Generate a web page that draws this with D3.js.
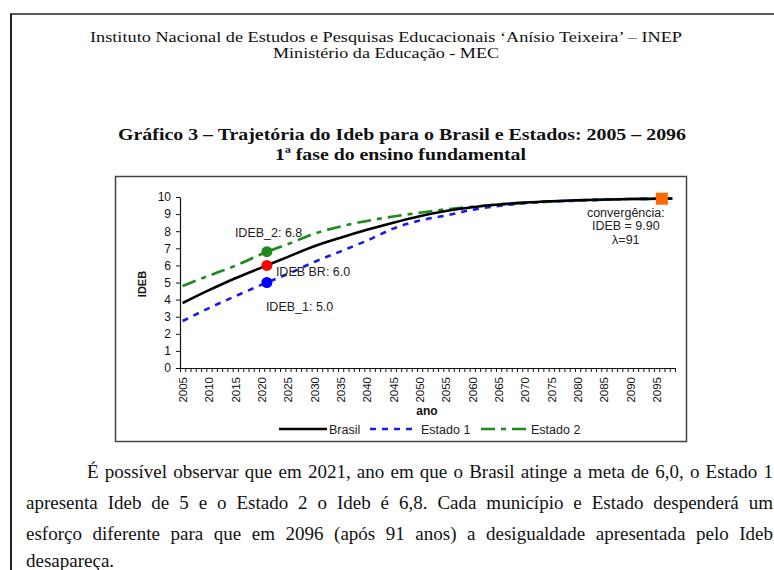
<!DOCTYPE html>
<html>
<head>
<meta charset="utf-8">
<script src="https://cdn.jsdelivr.net/npm/d3@7"></script>
<style>
  body { margin: 0; background: #fff; }
  svg { display: block; }
  .serif { font-family: "Liberation Serif", "Times New Roman", serif; fill: #111; }
  .sans { font-family: "Liberation Sans", Arial, sans-serif; fill: #111; }
  .axis path, .axis line { stroke: #111; }
</style>
</head>
<body>
<svg id="page"></svg>
<script>
// anos lidos no grafico e valores do Ideb
var anos    = [2005, 2010, 2015, 2021, 2025, 2030, 2035, 2040, 2045, 2050, 2055, 2060, 2065, 2070, 2075, 2080, 2085, 2090, 2096, 2098];
var brasil  = [3.8, 4.55, 5.25, 6.0, 6.5, 7.12, 7.62, 8.08, 8.5, 8.88, 9.18, 9.4, 9.56, 9.67, 9.75, 9.81, 9.85, 9.88, 9.9, 9.91];
var estado1 = [2.75, 3.5, 4.2, 5.0, 5.5, 6.2, 6.82, 7.45, 8.15, 8.62, 8.92, 9.25, 9.48, 9.64, 9.73, 9.79, 9.84, 9.88, 9.9, 9.91];
var estado2 = [4.8, 5.4, 5.98, 6.8, 7.25, 7.85, 8.28, 8.6, 8.86, 9.08, 9.28, 9.43, 9.57, 9.66, 9.74, 9.8, 9.85, 9.88, 9.9, 9.91];

var series = ["Brasil", "Estado 1", "Estado 2"];
var rotulosAno = d3.range(2005, 2096, 5);
var ticksY = d3.range(0, 11);

// pontos destacados em 2021 e a convergencia em 2096
var marcos = [
  { nome: "IDEB_2: 6.8", ano: 2021, valor: 6.8 },
  { nome: "IDEB BR: 6.0", ano: 2021, valor: 6.0 },
  { nome: "IDEB_1: 5.0", ano: 2021, valor: 5.0 }
];
var convergencia = { ano: 2096, valor: 9.9, texto: ["convergência:", "IDEB = 9.90", "λ=91"] };

var W = 774, H = 570;
var svg = d3.select("#page").attr("width", W).attr("height", H);

// texto de largura fixa (a pagina original esta esticada na horizontal)
function esticado(sel, texto, x, y, tam, largura) {
  return sel.append("text")
      .attr("x", x).attr("y", y)
      .attr("font-size", tam)
      .attr("textLength", largura)
      .attr("lengthAdjust", "spacingAndGlyphs")
      .text(texto);
}

// moldura da pagina
svg.append("line").attr("x1", 10).attr("x2", W).attr("y1", 14).attr("y2", 14)
    .attr("stroke", "#222").attr("stroke-width", 1.5);
svg.append("line").attr("x1", 11).attr("x2", 11).attr("y1", 14).attr("y2", H)
    .attr("stroke", "#222").attr("stroke-width", 2);

// cabecalho
var cab = svg.append("g").attr("class", "serif");
esticado(cab, "Instituto Nacional de Estudos e Pesquisas Educacionais ‘Anísio Teixeira’ – INEP", 90, 41.5, 14.3, 592);
esticado(cab, "Ministério da Educação - MEC", 273, 58, 14.3, 226);

// titulo
var tit = svg.append("g").attr("class", "serif").attr("font-weight", "bold");
esticado(tit, "Gráfico 3 – Trajetória do Ideb para o Brasil e Estados: 2005 – 2096", 118, 140, 17, 568);
esticado(tit, "1ª fase do ensino fundamental", 275, 160, 17, 251);

// caixa do grafico
svg.append("rect").attr("x", 115.5).attr("y", 176.5).attr("width", 571).attr("height", 265)
    .attr("fill", "none").attr("stroke", "#444").attr("stroke-width", 1.5);

// escalas
var x = d3.scaleLinear().domain([2004.5, 2098.5]).range([180, 675]);
var y = d3.scaleLinear().domain([0, 10]).range([368, 197]);

var g = svg.append("g").attr("class", "sans");

// eixo x: marcas a cada ano
g.append("g").attr("class", "axis")
    .attr("transform", "translate(0,368)")
    .call(d3.axisBottom(x).tickValues(d3.range(2004.5, 2099, 1)).tickSize(4).tickSizeOuter(0).tickFormat(""))
    .call(function(a) { a.select(".domain").attr("stroke-width", 1.2); });

// rotulos dos anos, verticais
var xl = g.append("g").attr("class", "axis")
    .attr("transform", "translate(0,368)")
    .call(d3.axisBottom(x).tickValues(rotulosAno).tickSize(0).tickFormat(d3.format("d")));
xl.select(".domain").remove();
xl.selectAll("text")
    .attr("transform", "rotate(-90)")
    .attr("text-anchor", "end")
    .attr("x", -9).attr("y", 0).attr("dy", "0.35em")
    .attr("font-size", 11.5).attr("font-family", "Liberation Sans, Arial, sans-serif")
    .attr("fill", "#111");

// eixo y
var ya = g.append("g").attr("class", "axis")
    .attr("transform", "translate(180,0)")
    .call(d3.axisLeft(y).tickValues(ticksY).tickSize(4).tickPadding(5).tickSizeOuter(0));
ya.selectAll("text").attr("font-size", 12).attr("font-family", "Liberation Sans, Arial, sans-serif").attr("fill", "#111");
ya.select(".domain").attr("stroke-width", 1.2);

// titulos dos eixos
g.append("text").attr("transform", "translate(146,284) rotate(-90)")
    .attr("text-anchor", "middle").attr("font-size", 11).attr("font-weight", "bold").text("IDEB");
g.append("text").attr("x", 427).attr("y", 415)
    .attr("text-anchor", "middle").attr("font-size", 12).attr("font-weight", "bold").text("ano");

// linhas
var estilo = {
  "Brasil":   { cor: "#000000", dash: null },
  "Estado 1": { cor: "#1a1ae6", dash: "6,6" },
  "Estado 2": { cor: "#1e8a1e", dash: "14,6,5,6" }
};
var valores = { "Brasil": brasil, "Estado 1": estado1, "Estado 2": estado2 };

var linha = d3.line()
    .x(function(d, i) { return x(anos[i]); })
    .y(function(d) { return y(d); })
    .curve(d3.curveMonotoneX);

["Estado 1", "Estado 2", "Brasil"].forEach(function(s) {
  g.append("path")
      .datum(valores[s])
      .attr("d", linha)
      .attr("fill", "none")
      .attr("stroke", estilo[s].cor)
      .attr("stroke-width", 2.6)
      .attr("stroke-dasharray", estilo[s].dash);
});

// pontos de 2021
var coresMarcos = ["#1e8a1e", "#ff0000", "#0000ff"];
g.selectAll("circle.marco")
    .data(marcos)
    .enter().append("circle")
    .attr("class", "marco")
    .attr("cx", function(d) { return x(d.ano); })
    .attr("cy", function(d) { return y(d.valor); })
    .attr("r", 5.5)
    .attr("fill", function(d, i) { return coresMarcos[i]; });

// rotulos dos pontos
var deslocamentos = [[-32, -15], [9, 11], [-1, 28]];
g.selectAll("text.marco")
    .data(marcos)
    .enter().append("text")
    .attr("class", "marco")
    .attr("x", function(d, i) { return x(d.ano) + deslocamentos[i][0]; })
    .attr("y", function(d, i) { return y(d.valor) + deslocamentos[i][1]; })
    .attr("font-size", 12.5)
    .attr("fill", "#222")
    .text(function(d) { return d.nome; });

// convergencia
g.append("rect")
    .attr("x", x(convergencia.ano) - 6).attr("y", y(convergencia.valor) - 6)
    .attr("width", 12).attr("height", 12)
    .attr("fill", "#ff6a00");

g.selectAll("text.conv")
    .data(convergencia.texto)
    .enter().append("text")
    .attr("class", "conv")
    .attr("x", x(convergencia.ano) - 36)
    .attr("y", function(d, i) { return y(convergencia.valor) + 18 + i * 13.5; })
    .attr("text-anchor", "middle")
    .attr("font-size", 12.5)
    .attr("fill", "#222")
    .text(function(d) { return d; });

// legenda
var legX = [[279, 327], [370, 416], [481, 526]];
var leg = g.append("g").attr("transform", "translate(0,429)");
series.forEach(function(s, i) {
  leg.append("line")
      .attr("x1", legX[i][0]).attr("x2", legX[i][1])
      .attr("stroke", estilo[s].cor).attr("stroke-width", 2.6)
      .attr("stroke-dasharray", estilo[s].dash);
  leg.append("text")
      .attr("x", legX[i][1] + (i == 0 ? 2 : 5)).attr("y", 4.5)
      .attr("font-size", 12.5).attr("fill", "#222")
      .text(s);
});

// paragrafo abaixo do grafico (justificado ate a borda direita)
var linhas = [
  { t: "É possível observar que em 2021, ano em que o Brasil atinge a meta de 6,0, o Estado 1", x: 87, y: 478, fim: 773 },
  { t: "apresenta Ideb de 5 e o Estado 2 o Ideb é 6,8. Cada município e Estado despenderá um", x: 26, y: 509, fim: 773 },
  { t: "esforço diferente para que em 2096 (após 91 anos) a desigualdade apresentada pelo Ideb", x: 26, y: 540, fim: 773 },
  { t: "desapareça.", x: 26, y: 567, fim: null }
];
var par = svg.append("g").attr("class", "serif");
linhas.forEach(function(l) {
  var t = par.append("text").attr("x", l.x).attr("y", l.y).attr("font-size", 19).text(l.t);
  if (l.fim) {
    var natural = t.node().getComputedTextLength();
    var espacos = l.t.split(" ").length - 1;
    t.attr("word-spacing", (l.fim - l.x - natural) / espacos);
  }
});
</script>
</body>
</html>
